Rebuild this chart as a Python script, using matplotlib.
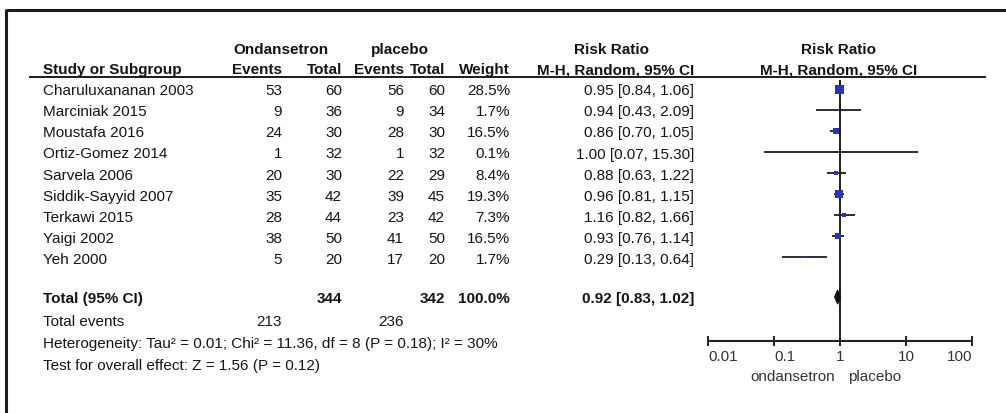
import matplotlib
matplotlib.use("Agg")
import matplotlib.pyplot as plt
import numpy as np

plt.rcParams['font.family'] = ['Liberation Sans', 'DejaVu Sans']

# ---------------- data ----------------
studies = ["Charuluxananan 2003", "Marciniak 2015", "Moustafa 2016", "Ortiz-Gomez 2014",
           "Sarvela 2006", "Siddik-Sayyid 2007", "Terkawi 2015", "Yaigi 2002", "Yeh 2000"]
ond_events = [53, 9, 24, 1, 20, 35, 28, 38, 5]
ond_total = [60, 36, 30, 32, 30, 42, 44, 50, 20]
pla_events = [56, 9, 28, 1, 22, 39, 23, 41, 17]
pla_total = [60, 34, 30, 32, 29, 45, 42, 50, 20]
weights = [28.5, 1.7, 16.5, 0.1, 8.4, 19.3, 7.3, 16.5, 1.7]
rr = [0.95, 0.94, 0.86, 1.00, 0.88, 0.96, 1.16, 0.93, 0.29]
rr_lo = [0.84, 0.43, 0.70, 0.07, 0.63, 0.81, 0.82, 0.76, 0.13]
rr_hi = [1.06, 2.09, 1.05, 15.30, 1.22, 1.15, 1.66, 1.14, 0.64]

total_ond_n = 344
total_pla_n = 342
total_weight = "100.0%"
total_rr, total_lo, total_hi = 0.92, 0.83, 1.02
total_ond_events = 213
total_pla_events = 236
heterogeneity = "Heterogeneity: Tau² = 0.01; Chi² = 11.36, df = 8 (P = 0.18); I² = 30%"
overall = "Test for overall effect: Z = 1.56 (P = 0.12)"
axis_ticks = [0.01, 0.1, 1, 10, 100]
axis_ticklabels = ["0.01", "0.1", "1", "10", "100"]
favours = ["ondansetron", "placebo"]

# ---------------- layout (pixels) ----------------
W, H = 1006, 413
fig = plt.figure(figsize=(W / 100, H / 100), dpi=100)
fig.patch.set_facecolor("white")
ax = fig.add_axes([0, 0, 1, 1])
ax.set_xlim(0, W)
ax.set_ylim(H, 0)
ax.axis("off")

FS = 11
TXT = "#151515"
x_study = 43
x_ev1, x_tot1, x_ev2, x_tot2, x_w, x_rr = 282, 342, 404, 445, 510, 694
row0, drow = 90, 21.1
y_h1, y_h2 = 49, 69
y_total, y_tev, y_het, y_test = 298, 321, 343, 365
BL = 5.2  # baseline offset from visual centre


def t(x, y, s, ha="left", bold=False, color=TXT, size=FS):
    ax.text(x, y + BL, s, ha=ha, va="baseline", fontsize=size,
            fontweight="bold" if bold else "normal", color=color)


# border
ax.plot([6, W], [10, 10], color="#1c1c1c", lw=2.2, solid_capstyle="butt")
ax.plot([6, 6], [9, H], color="#1c1c1c", lw=2.2, solid_capstyle="butt")

# headers
t(281, y_h1, "Ondansetron", ha="center", bold=True)
t(400, y_h1, "placebo", ha="center", bold=True)
t(612, y_h1, "Risk Ratio", ha="center", bold=True)
t(839, y_h1, "Risk Ratio", ha="center", bold=True)
t(x_study, y_h2, "Study or Subgroup", bold=True)
t(x_ev1, y_h2, "Events", ha="right", bold=True)
t(x_tot1, y_h2, "Total", ha="right", bold=True)
t(x_ev2, y_h2, "Events", ha="right", bold=True)
t(x_tot2, y_h2, "Total", ha="right", bold=True)
t(x_w, y_h2, "Weight", ha="right", bold=True)
t(x_rr, y_h2, "M-H, Random, 95% CI", ha="right", bold=True)
t(839, y_h2, "M-H, Random, 95% CI", ha="center", bold=True)
ax.plot([30, 985], [76.5, 76.5], color="#1c1c1c", lw=1.4)

rows_y = [row0 + drow * i for i in range(len(studies))]
for i, y in enumerate(rows_y):
    t(x_study, y, studies[i])
    t(x_ev1, y, str(ond_events[i]), ha="right")
    t(x_tot1, y, str(ond_total[i]), ha="right")
    t(x_ev2, y, str(pla_events[i]), ha="right")
    t(x_tot2, y, str(pla_total[i]), ha="right")
    t(x_w, y, f"{weights[i]:.1f}%", ha="right")
    t(x_rr, y, f"{rr[i]:.2f} [{rr_lo[i]:.2f}, {rr_hi[i]:.2f}]", ha="right")

t(x_study, y_total, "Total (95% CI)", bold=True)
t(x_tot1, y_total, str(total_ond_n), ha="right", bold=True)
t(x_tot2, y_total, str(total_pla_n), ha="right", bold=True)
t(x_w, y_total, total_weight, ha="right", bold=True)
t(x_rr, y_total, f"{total_rr:.2f} [{total_lo:.2f}, {total_hi:.2f}]", ha="right", bold=True)
t(x_study, y_tev, "Total events")
t(x_ev1, y_tev, str(total_ond_events), ha="right")
t(x_ev2, y_tev, str(total_pla_events), ha="right")
t(x_study, y_het, heterogeneity)
t(x_study, y_test, overall)

# ---------------- forest plot ----------------
x0, x1 = 708, 972
fax = fig.add_axes([x0 / W, 0, (x1 - x0) / W, 1])
fax.set_xscale("log")
fax.set_xlim(axis_ticks[0], axis_ticks[-1])
fax.set_ylim(H, 0)
fax.axis("off")

y_axis = 341
BLUE = "#3035a6"
fax.vlines(1, 80, y_axis, color="#1c1c1c", lw=1.4, clip_on=False)
for i, y in enumerate(rows_y):
    fax.hlines(y - 1.5, rr_lo[i], rr_hi[i], color="#1c1c1c", lw=1.3, clip_on=False)
    side_px = max(9.0 * np.sqrt(weights[i] / 28.5), 1.5)
    fax.plot([rr[i]], [y - 1.5], marker="s", ms=side_px * 0.72, mfc=BLUE, mec=BLUE,
             mew=0, linestyle="none", clip_on=False, zorder=3)

# pooled diamond
fax.fill([total_lo, total_rr, total_hi, total_rr],
         [y_total - 1, y_total - 8, y_total - 1, y_total + 6],
         color="#111111", lw=0.8, clip_on=False, zorder=3)

# axis
fax.hlines(y_axis, axis_ticks[0], axis_ticks[-1], color="#222222", lw=1.5, clip_on=False)
fax.vlines(axis_ticks, y_axis - 5, y_axis + 5, color="#222222", lw=1.4, clip_on=False)
aligns = ["left", "left", "center", "center", "right"]
for tk, lab, al in zip(axis_ticks, axis_ticklabels, aligns):
    fax.text(tk, y_axis + 15 + BL, lab, ha=al, va="baseline", fontsize=FS, color="#333333")
fax.text(0.85, 376 + BL, favours[0], ha="right", va="baseline", fontsize=FS, color="#333333")
fax.text(1.32, 376 + BL, favours[1], ha="left", va="baseline", fontsize=FS, color="#333333")

fig.savefig("out.png", dpi=100, facecolor="white")
